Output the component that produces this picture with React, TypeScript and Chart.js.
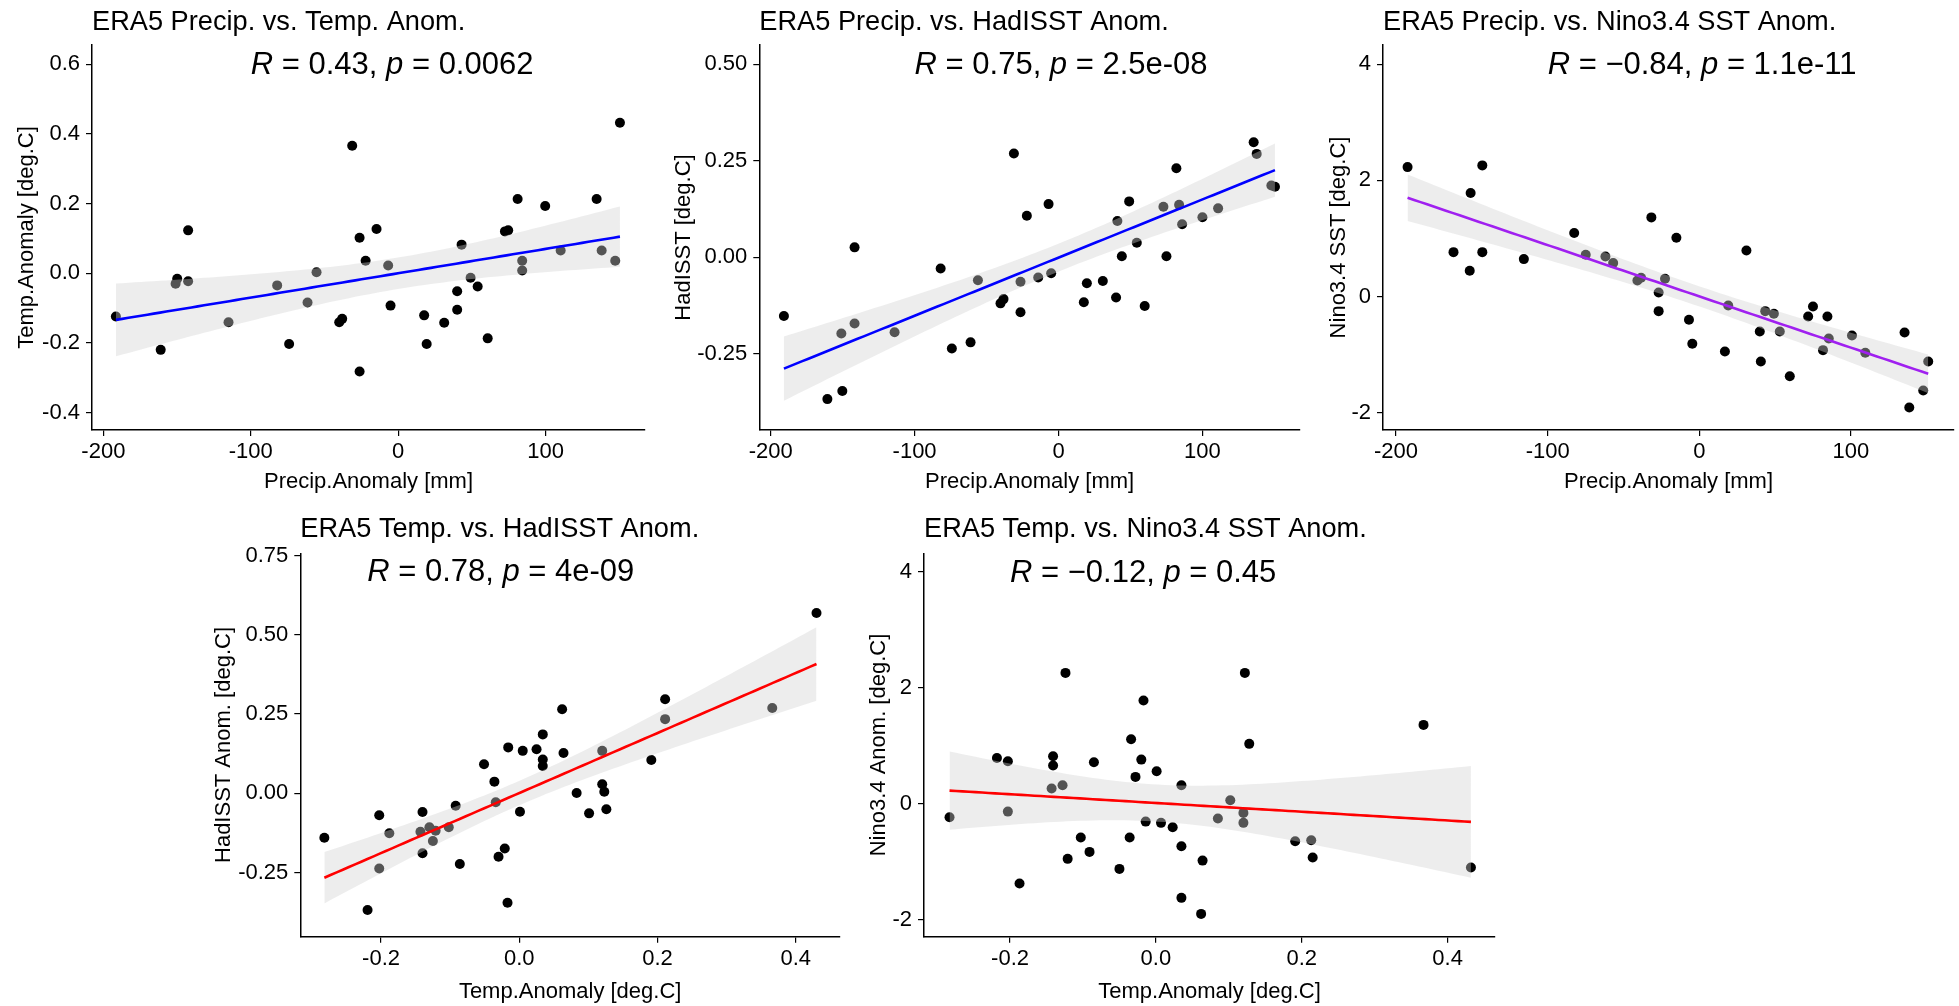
import React, { useEffect, useRef } from "react";
import { Chart, registerables } from "chart.js";

Chart.register(...registerables);

const FONT = '"Liberation Sans", Arial, Helvetica, sans-serif';

// ---------- Panel 1: ERA5 Precip. vs. Temp. Anom. ----------
const P1_X = [-191.5, -161.1, -151.0, -149.9, -142.5, -142.5, -115.1, -82.1, -74.0, -61.5, -55.4, -40.0, -38.0, -31.2, -26.2, -26.2, -22.1, -14.7, -6.8, -5.2, 17.6, 19.3, 31.2, 40.0, 40.0, 43.0, 49.1, 53.9, 60.7, 72.4, 74.6, 81.0, 84.1, 84.1, 99.7, 110.2, 134.6, 138.0, 147.2, 150.4];
const P1_Y = [-0.124, -0.22, -0.03, -0.016, 0.123, -0.023, -0.141, -0.035, -0.203, -0.084, 0.003, -0.141, -0.131, 0.366, 0.102, -0.282, 0.036, 0.127, 0.022, -0.093, -0.121, -0.203, -0.142, -0.052, -0.105, 0.082, -0.013, -0.038, -0.187, 0.12, 0.123, 0.213, 0.036, 0.008, 0.193, 0.065, 0.213, 0.065, 0.036, 0.432];
const P1_FIT_ENDS = [-0.134, 0.105]; // fitted values at min / max x

// ---------- Panel 2: ERA5 Precip. vs. HadISST Anom. ----------
const P2_X = [-190.8, -160.6, -150.9, -150.2, -141.7, -141.7, -113.9, -81.9, -74.1, -61.1, -56.0, -40.3, -38.2, -31.0, -26.4, -26.4, -22.0, -14.1, -6.9, -5.1, 17.6, 19.7, 30.8, 40.0, 40.9, 44.0, 49.1, 54.4, 59.9, 72.9, 75.0, 81.9, 83.8, 85.9, 100.0, 110.9, 135.6, 137.7, 147.9, 150.4];
const P2_Y = [-0.152, -0.367, -0.197, -0.346, 0.026, -0.171, -0.194, -0.029, -0.236, -0.22, -0.059, -0.119, -0.108, 0.269, -0.142, -0.063, 0.108, -0.052, 0.138, -0.041, -0.116, -0.067, -0.061, -0.104, 0.094, 0.003, 0.145, 0.038, -0.126, 0.131, 0.003, 0.231, 0.136, 0.086, 0.104, 0.127, 0.298, 0.268, 0.186, 0.183];
const P2_FIT_ENDS = [-0.288, 0.226];

// ---------- Panel 3: ERA5 Precip. vs. Nino3.4 SST Anom. ----------
const P3_X = [-192.4, -162.1, -151.4, -150.8, -143.1, -143.1, -115.7, -82.5, -74.9, -61.9, -56.8, -40.8, -38.4, -31.6, -26.8, -26.8, -22.6, -15.1, -6.8, -4.6, 16.9, 19.1, 31.1, 39.9, 40.6, 43.5, 49.2, 53.1, 59.7, 71.8, 75.0, 81.6, 84.5, 85.4, 100.7, 109.5, 135.4, 138.5, 147.7, 151.0];
const P3_Y = [2.227, 0.763, 0.443, 1.78, 2.257, 0.763, 0.643, 1.091, 0.718, 0.689, 0.574, 0.276, 0.322, 1.361, 0.069, -0.253, 0.305, 1.011, -0.401, -0.815, -0.947, -0.155, 0.792, -0.603, -1.12, -0.253, -0.298, -0.603, -1.373, -0.345, -0.172, -0.925, -0.345, -0.724, -0.672, -0.97, -0.62, -1.912, -1.619, -1.12];
const P3_FIT_ENDS = [1.7, -1.332];

// ---------- Panel 4: ERA5 Temp. vs. HadISST Anom. ----------
const P4_X = [-0.282, -0.2195, -0.2026, -0.2026, -0.188, -0.143, -0.14, -0.14, -0.13, -0.125, -0.121, -0.102, -0.092, -0.086, -0.051, -0.036, -0.034, -0.03, -0.021, -0.017, -0.016, 0.001, 0.005, 0.025, 0.034, 0.034, 0.034, 0.062, 0.064, 0.083, 0.101, 0.12, 0.12, 0.123, 0.126, 0.191, 0.211, 0.211, 0.366, 0.43];
const P4_Y = [-0.14, -0.368, -0.069, -0.237, -0.126, -0.121, -0.059, -0.189, -0.107, -0.15, -0.118, -0.107, -0.039, -0.223, 0.092, 0.037, -0.028, -0.2, -0.174, -0.345, 0.145, -0.058, 0.134, 0.139, 0.186, 0.107, 0.086, 0.265, 0.127, 0.001, -0.063, 0.134, 0.029, 0.005, -0.05, 0.105, 0.297, 0.234, 0.269, 0.569];
const P4_FIT_ENDS = [-0.266, 0.408];

// ---------- Panel 5: ERA5 Temp. vs. Nino3.4 SST Anom. ----------
const P5_X = [-0.283, -0.218, -0.203, -0.203, -0.187, -0.143, -0.141, -0.141, -0.128, -0.124, -0.121, -0.103, -0.091, -0.085, -0.05, -0.036, -0.034, -0.028, -0.02, -0.017, -0.014, 0.001, 0.007, 0.023, 0.035, 0.035, 0.035, 0.064, 0.062, 0.085, 0.102, 0.12, 0.12, 0.122, 0.128, 0.191, 0.213, 0.215, 0.367, 0.432];
const P5_Y = [-0.23, 0.792, 0.734, -0.133, -1.373, 0.264, 0.82, 0.66, 0.32, 2.257, -0.947, -0.58, -0.827, 0.717, -1.12, -0.58, 1.113, 0.465, 0.763, 1.78, -0.305, 0.562, -0.327, -0.403, 0.32, -0.73, -1.619, -0.977, -1.895, -0.253, 0.062, -0.155, -0.327, 2.257, 1.034, -0.644, -0.627, -0.925, 1.361, -1.097];
const P5_FIT_ENDS = [0.229, -0.31];

// ---------- Tick values and labels ----------
const PRECIP_TICKS = [-200, -100, 0, 100];
const PRECIP_TICK_LABELS = ["-200", "-100", "0", "100"];
const TEMP_TICKS = [-0.2, 0.0, 0.2, 0.4];
const TEMP_TICK_LABELS = ["-0.2", "0.0", "0.2", "0.4"];
const P1_Y_TICKS = [-0.4, -0.2, 0.0, 0.2, 0.4, 0.6];
const P1_Y_TICK_LABELS = ["-0.4", "-0.2", "0.0", "0.2", "0.4", "0.6"];
const P2_Y_TICKS = [-0.25, 0.0, 0.25, 0.5];
const P2_Y_TICK_LABELS = ["-0.25", "0.00", "0.25", "0.50"];
const NINO_TICKS = [-2, 0, 2, 4];
const NINO_TICK_LABELS = ["-2", "0", "2", "4"];
const P4_Y_TICKS = [-0.25, 0.0, 0.25, 0.5, 0.75];
const P4_Y_TICK_LABELS = ["-0.25", "0.00", "0.25", "0.50", "0.75"];

// ---------- Correlation labels ----------
const R_VALUES = ["0.43", "0.75", "\u22120.84", "0.78", "\u22120.12"];
const P_VALUES = ["0.0062", "2.5e-08", "1.1e-11", "4e-09", "0.45"];

type Box = { left: number; top: number; width: number; height: number };
type Plot = { left: number; top: number; right: number; bottom: number };

type Spec = {
  title: string;
  xTitle: string;
  yTitle: string;
  xs: number[];
  ys: number[];
  fitEnds: number[];
  lineColor: string;
  rText: string;
  pText: string;
  labelX: number;
  labelY: number;
  xMin: number;
  xMax: number;
  yMin: number;
  yMax: number;
  xTicks: number[];
  xTickLabels: string[];
  yTicks: number[];
  yTickLabels: string[];
  box: Box;
  plot: Plot;
  titleBaseline: number;
  xTitleBaseline: number;
  yTitleBaselineX: number;
};

const TOP_TITLE_BASE = 29.5;
const BOTTOM_TITLE_BASE = 536.7;
const TOP_XTITLE_BASE = 488.3;
const BOTTOM_XTITLE_BASE = 998.3;

const SPECS: Spec[] = [
  {
    title: "ERA5 Precip. vs. Temp. Anom.",
    xTitle: "Precip.Anomaly [mm]",
    yTitle: "Temp.Anomaly [deg.C]",
    xs: P1_X, ys: P1_Y, fitEnds: P1_FIT_ENDS, lineColor: "#0000FF",
    rText: R_VALUES[0], pText: P_VALUES[0], labelX: -100, labelY: 0.6,
    xMin: -207.7, xMax: 167.4, yMin: -0.45, yMax: 0.655,
    xTicks: PRECIP_TICKS, xTickLabels: PRECIP_TICK_LABELS,
    yTicks: P1_Y_TICKS, yTickLabels: P1_Y_TICK_LABELS,
    box: { left: 0, top: 0, width: 650, height: 500 },
    plot: { left: 92, top: 45, right: 645, bottom: 430 },
    titleBaseline: TOP_TITLE_BASE, xTitleBaseline: TOP_XTITLE_BASE, yTitleBaselineX: 32.7,
  },
  {
    title: "ERA5 Precip. vs. HadISST Anom.",
    xTitle: "Precip.Anomaly [mm]",
    yTitle: "HadISST [deg.C]",
    xs: P2_X, ys: P2_Y, fitEnds: P2_FIT_ENDS, lineColor: "#0000FF",
    rText: R_VALUES[1], pText: P_VALUES[1], labelX: -100, labelY: 0.5,
    xMin: -207.9, xMax: 167.8, yMin: -0.447, yMax: 0.55,
    xTicks: PRECIP_TICKS, xTickLabels: PRECIP_TICK_LABELS,
    yTicks: P2_Y_TICKS, yTickLabels: P2_Y_TICK_LABELS,
    box: { left: 650, top: 0, width: 660, height: 500 },
    plot: { left: 759.3, top: 45, right: 1300, bottom: 430 },
    titleBaseline: TOP_TITLE_BASE, xTitleBaseline: TOP_XTITLE_BASE, yTitleBaselineX: 690,
  },
  {
    title: "ERA5 Precip. vs. Nino3.4 SST Anom.",
    xTitle: "Precip.Anomaly [mm]",
    yTitle: "Nino3.4 SST [deg.C]",
    xs: P3_X, ys: P3_Y, fitEnds: P3_FIT_ENDS, lineColor: "#A020F0",
    rText: R_VALUES[2], pText: P_VALUES[2], labelX: -100, labelY: 4,
    xMin: -208.6, xMax: 168, yMin: -2.3, yMax: 4.33,
    xTicks: PRECIP_TICKS, xTickLabels: PRECIP_TICK_LABELS,
    yTicks: NINO_TICKS, yTickLabels: NINO_TICK_LABELS,
    box: { left: 1310, top: 0, width: 649, height: 500 },
    plot: { left: 1383, top: 45, right: 1955, bottom: 430 },
    titleBaseline: TOP_TITLE_BASE, xTitleBaseline: TOP_XTITLE_BASE, yTitleBaselineX: 1345.3,
  },
  {
    title: "ERA5 Temp. vs. HadISST Anom.",
    xTitle: "Temp.Anomaly [deg.C]",
    yTitle: "HadISST Anom. [deg.C]",
    xs: P4_X, ys: P4_Y, fitEnds: P4_FIT_ENDS, lineColor: "#FF0000",
    rText: R_VALUES[3], pText: P_VALUES[3], labelX: -0.22, labelY: 0.7,
    xMin: -0.3168, xMax: 0.464, yMin: -0.452, yMax: 0.757,
    xTicks: TEMP_TICKS, xTickLabels: TEMP_TICK_LABELS,
    yTicks: P4_Y_TICKS, yTickLabels: P4_Y_TICK_LABELS,
    box: { left: 187, top: 500, width: 663, height: 506 },
    plot: { left: 300.3, top: 553.3, right: 840, bottom: 936.7 },
    titleBaseline: BOTTOM_TITLE_BASE, xTitleBaseline: BOTTOM_XTITLE_BASE, yTitleBaselineX: 230.3,
  },
  {
    title: "ERA5 Temp. vs. Nino3.4 SST Anom.",
    xTitle: "Temp.Anomaly [deg.C]",
    yTitle: "Nino3.4 Anom. [deg.C]",
    xs: P5_X, ys: P5_Y, fitEnds: P5_FIT_ENDS, lineColor: "#FF0000",
    rText: R_VALUES[4], pText: P_VALUES[4], labelX: -0.2, labelY: 4,
    xMin: -0.318, xMax: 0.465, yMin: -2.288, yMax: 4.317,
    xTicks: TEMP_TICKS, xTickLabels: TEMP_TICK_LABELS,
    yTicks: NINO_TICKS, yTickLabels: NINO_TICK_LABELS,
    box: { left: 850, top: 500, width: 650, height: 506 },
    plot: { left: 924, top: 553.3, right: 1495, bottom: 936.7 },
    titleBaseline: BOTTOM_TITLE_BASE, xTitleBaseline: BOTTOM_XTITLE_BASE, yTitleBaselineX: 885,
  },
];

const TITLE_SIZE = 27.2;
const TICK_SIZE = 22;
const AXIS_TITLE_SIZE = 22;
const LABEL_SIZE = 31;

function tCrit(df: number) {
  const z = 1.959964;
  const z3 = z ** 3, z5 = z ** 5, z7 = z ** 7;
  return (
    z +
    (z3 + z) / (4 * df) +
    (5 * z5 + 16 * z3 + 3 * z) / (96 * df * df) +
    (3 * z7 + 19 * z5 + 17 * z3 - 15 * z) / (384 * df ** 3)
  );
}

// Fitted line (values at the x extremes) with the 95% confidence
// band of the mean, computed from the scatter data as geom_smooth(method = "lm") does.
function fitBand(xs: number[], ys: number[], ends: number[], steps = 80) {
  const n = xs.length;
  const lo = Math.min(...xs), hi = Math.max(...xs);
  const b = (ends[1] - ends[0]) / (hi - lo);
  const f = (x: number) => ends[0] + b * (x - lo);
  const mx = xs.reduce((a, v) => a + v, 0) / n;
  let sxx = 0, sse = 0;
  for (let i = 0; i < n; i++) {
    sxx += (xs[i] - mx) ** 2;
    sse += (ys[i] - f(xs[i])) ** 2;
  }
  const s = Math.sqrt(sse / (n - 2));
  const t = tCrit(n - 2);
  const line: { x: number; y: number }[] = [];
  const upper: { x: number; y: number }[] = [];
  const lower: { x: number; y: number }[] = [];
  for (let k = 0; k <= steps; k++) {
    const x = lo + ((hi - lo) * k) / steps;
    const yh = f(x);
    const se = s * Math.sqrt(1 / n + (x - mx) ** 2 / sxx);
    line.push({ x, y: yh });
    upper.push({ x, y: yh + t * se });
    lower.push({ x, y: yh - t * se });
  }
  return { line, upper, lower };
}

function textPlugin(spec: Spec) {
  return {
    id: "panelText",
    afterDraw(chart: any) {
      const ctx: CanvasRenderingContext2D = chart.ctx;
      const area = chart.chartArea;
      const bx = spec.box.left, by = spec.box.top;
      ctx.save();
      ctx.fillStyle = "#000";
      // Title
      ctx.font = `${TITLE_SIZE}px ${FONT}`;
      ctx.textAlign = "left";
      ctx.textBaseline = "alphabetic";
      ctx.fillText(spec.title, area.left, spec.titleBaseline - by);
      // X axis title
      ctx.font = `${AXIS_TITLE_SIZE}px ${FONT}`;
      ctx.textAlign = "center";
      ctx.fillText(spec.xTitle, (area.left + area.right) / 2, spec.xTitleBaseline - by);
      // Y axis title
      ctx.save();
      ctx.translate(spec.yTitleBaselineX - bx, (area.top + area.bottom) / 2);
      ctx.rotate(-Math.PI / 2);
      ctx.textAlign = "center";
      ctx.fillText(spec.yTitle, 0, 0);
      ctx.restore();
      // Correlation label
      const sx = chart.scales.x, sy = chart.scales.y;
      let x = sx.getPixelForValue(spec.labelX);
      const y = sy.getPixelForValue(spec.labelY) + 0.358 * LABEL_SIZE - 1;
      const segs: [string, boolean][] = [
        ["R", true],
        [" = " + spec.rText + ", ", false],
        ["p", true],
        [" = " + spec.pText, false],
      ];
      ctx.textAlign = "left";
      for (const [txt, it] of segs) {
        ctx.font = `${it ? "italic " : ""}${LABEL_SIZE}px ${FONT}`;
        ctx.fillText(txt, x, y);
        x += ctx.measureText(txt).width;
      }
      ctx.restore();
    },
  };
}

function Panel({ spec }: { spec: Spec }) {
  const ref = useRef<HTMLCanvasElement | null>(null);
  useEffect(() => {
    if (!ref.current) return;
    const { box, plot } = spec;
    const W = plot.left - box.left;
    const H = box.top + box.height - plot.bottom;
    const fit = fitBand(spec.xs, spec.ys, spec.fitEnds);
    const pts = spec.xs.map((x, i) => ({ x, y: spec.ys[i] }));
    const tickFont = { family: FONT, size: TICK_SIZE };
    const chart = new Chart(ref.current, {
      type: "scatter",
      data: {
        datasets: [
          {
            label: "fit",
            data: fit.line,
            showLine: true,
            borderColor: spec.lineColor,
            borderWidth: 2.6,
            pointRadius: 0,
            fill: false,
            order: 0,
          } as any,
          {
            label: "upper",
            data: fit.upper,
            showLine: true,
            borderColor: "rgba(0,0,0,0)",
            borderWidth: 1,
            pointRadius: 0,
            fill: "+1",
            backgroundColor: "rgba(211,211,211,0.4)",
            order: 1,
          } as any,
          {
            label: "lower",
            data: fit.lower,
            showLine: true,
            borderColor: "rgba(0,0,0,0)",
            borderWidth: 1,
            pointRadius: 0,
            fill: false,
            order: 1,
          } as any,
          {
            label: "points",
            data: pts,
            showLine: false,
            pointRadius: 5,
            pointBackgroundColor: "#000",
            backgroundColor: "#000",
            pointBorderWidth: 0,
            borderWidth: 0,
            order: 2,
          } as any,
        ],
      },
      options: {
        responsive: false,
        animation: false,
        devicePixelRatio: 1,
        events: [],
        layout: {
          padding: {
            left: 0,
            top: plot.top - box.top,
            right: box.left + box.width - plot.right,
            bottom: 0,
          },
        },
        plugins: {
          legend: { display: false },
          tooltip: { enabled: false },
          title: { display: false },
        },
        scales: {
          x: {
            type: "linear",
            position: "bottom",
            min: spec.xMin,
            max: spec.xMax,
            afterBuildTicks: (s: any) => {
              s.ticks = spec.xTicks.map((v) => ({ value: v }));
            },
            afterFit: (s: any) => {
              s.height = H;
            },
            ticks: {
              callback: (_v: any, i: number) => spec.xTickLabels[i],
              color: "#000",
              font: tickFont,
              padding: 3,
              autoSkip: false,
              maxRotation: 0,
              minRotation: 0,
            },
            grid: {
              drawOnChartArea: false,
              drawTicks: true,
              tickLength: 6,
              color: "#000",
              lineWidth: 1.2,
            },
            border: { display: true, color: "#000", width: 1.5 },
          },
          y: {
            type: "linear",
            position: "left",
            min: spec.yMin,
            max: spec.yMax,
            afterBuildTicks: (s: any) => {
              s.ticks = spec.yTicks.map((v) => ({ value: v }));
            },
            afterFit: (s: any) => {
              s.width = W;
            },
            ticks: {
              callback: (_v: any, i: number) => spec.yTickLabels[i],
              color: "#000",
              font: tickFont,
              padding: 6,
              autoSkip: false,
            },
            grid: {
              drawOnChartArea: false,
              drawTicks: true,
              tickLength: 6,
              color: "#000",
              lineWidth: 1.2,
            },
            border: { display: true, color: "#000", width: 1.5 },
          },
        },
      } as any,
      plugins: [textPlugin(spec) as any],
    });
    return () => chart.destroy();
  }, [spec]);
  const { box } = spec;
  return (
    <canvas
      ref={ref}
      width={box.width}
      height={box.height}
      style={{
        position: "absolute",
        left: box.left,
        top: box.top,
        width: box.width,
        height: box.height,
      }}
    />
  );
}

export default function App() {
  return (
    <div
      style={{
        position: "absolute",
        left: 0,
        top: 0,
        width: 1959,
        height: 1006,
        background: "#fff",
        overflow: "hidden",
      }}
    >
      {SPECS.map((s, i) => (
        <Panel key={i} spec={s} />
      ))}
    </div>
  );
}
